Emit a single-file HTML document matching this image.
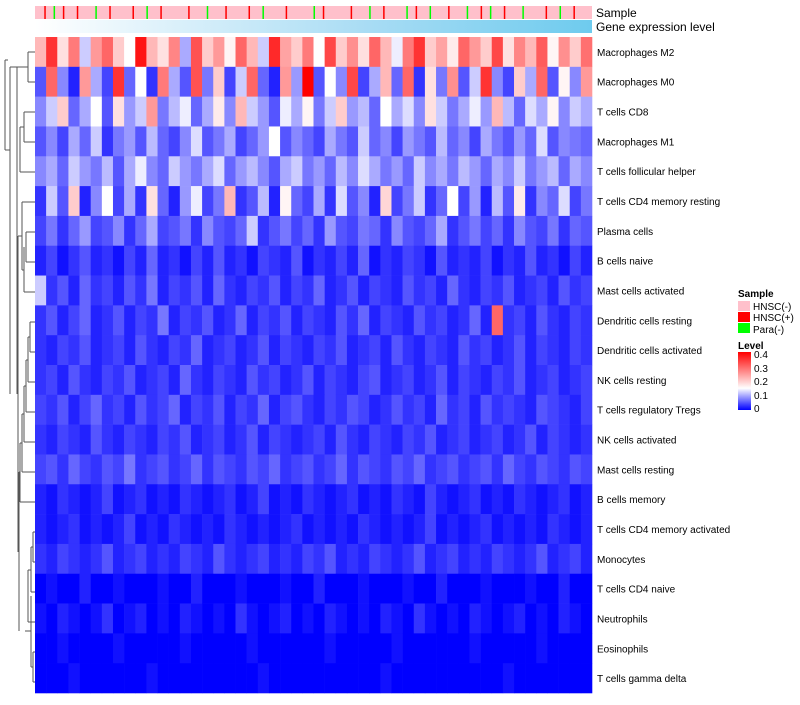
<!DOCTYPE html>
<html><head><meta charset="utf-8"><style>
body{margin:0;background:#fff;width:800px;height:700px;overflow:hidden;font-family:"Liberation Sans",sans-serif}
svg text{font-family:"Liberation Sans",sans-serif}
</style></head><body>
<svg id="chart" width="800" height="700" xmlns="http://www.w3.org/2000/svg">
<defs>
<linearGradient id="geneGrad" x1="0" x2="1" y1="0" y2="0"><stop offset="0" stop-color="#ffffff"/><stop offset="0.6" stop-color="#a8dcf4"/><stop offset="1" stop-color="#6ecbee"/></linearGradient>
<linearGradient id="lvlGrad" x1="0" x2="0" y1="1" y2="0"><stop offset="0" stop-color="#0000ff"/><stop offset="0.375" stop-color="#ffffff"/><stop offset="1" stop-color="#ff0000"/></linearGradient>
</defs>
<g id="annot"></g><g id="cells"></g><g id="labels"></g>
<g stroke="#555" stroke-width="1" fill="none">
<path d="M28,52 H35 M28,82 H35 M28,52 V82 M17,67 H28"/>
<path d="M24,112 H35 M24,142 H35 M24,112 V142 M20,127 H24 M20,172 H35 M20,127 V172 M22,202 H35"/>
<path d="M26,232 H35 M26,262 H35 M26,232 V262 M24,292 H35 M24,247 V292 M22,270 H24 M22,202 V270 M18,236 H22"/>
<path d="M30,322 H35 M30,352 H35 M30,322 V352 M28,337 H30 M28,382 H35 M28,337 V382 M26,360 H28 M26,412 H35 M26,360 V412 M24,386 H26 M24,442 H35 M24,386 V442 M22,414 H24 M22,472 H35 M22,414 V472 M20,443 H22 M20,502 H35 M20,443 V502 M19,472 H20"/>
<path d="M33,532 H35 M33,562 H35 M33,532 V562 M31,547 H33 M31,592 H35 M31,547 V592 M28,570 H31 M28,622 H35 M28,570 V622 M33,652 H35 M33,682 H35 M33,652 V682 M31,667 H33 M31,596 V667 M25,631 H31 M19,472 V631 M18,236 V552 M17,67 V394 M10,67 H17 M10,230 V394 M10,67 V230 M5,150 H10 M5,60 V150 M5,60 H8"/>
</g>
<g>
<text x="738" y="297" font-size="10" font-weight="bold">Sample</text>
<rect x="738" y="301" width="12" height="10" fill="#ffc0cb"/>
<text x="753" y="310" font-size="10">HNSC(-)</text>
<rect x="738" y="312" width="12" height="10" fill="#ff0000"/>
<text x="753" y="321" font-size="10">HNSC(+)</text>
<rect x="738" y="323" width="12" height="10" fill="#00ff00"/>
<text x="753" y="333" font-size="10">Para(-)</text>
<text x="738" y="349" font-size="10" font-weight="bold">Level</text>
<rect x="738" y="352" width="13" height="58" fill="url(#lvlGrad)"/>
<g font-size="10">
<text x="754" y="358">0.4</text><text x="754" y="372">0.3</text><text x="754" y="385">0.2</text><text x="754" y="399">0.1</text><text x="754" y="412">0</text>
</g>
</g>
</svg>
<script>
const rowNames=["Macrophages M2","Macrophages M0","T cells CD8","Macrophages M1","T cells follicular helper","T cells CD4 memory resting","Plasma cells","B cells naive","Mast cells activated","Dendritic cells resting","Dendritic cells activated","NK cells resting","T cells regulatory  Tregs","NK cells activated","Mast cells resting","B cells memory","T cells CD4 memory activated","Monocytes","T cells CD4 naive","Neutrophils","Eosinophils","T cells gamma delta"];
const rowM2=[.22,.35,.18,.28,.12,.25,.3,.2,.15,.38,.22,.18,.27,.1,.32,.2,.25,.16,.3,.22,.12,.36,.24,.2,.28,.15,.33,.2,.26,.18,.3,.22,.14,.28,.35,.2,.24,.17,.3,.25,.2,.33,.18,.27,.22,.31,.16,.26,.2,.29];
const rowM0=[.05,.3,.08,.02,.25,.1,.04,.35,.06,.15,.03,.28,.1,.05,.32,.07,.2,.04,.12,.3,.06,.02,.25,.09,.4,.05,.15,.08,.33,.04,.1,.22,.06,.3,.03,.18,.07,.26,.05,.12,.35,.08,.04,.2,.1,.3,.05,.16,.08,.25];
const rowCD8=[.08,.12,.2,.06,.1,.15,.05,.18,.09,.12,.25,.07,.11,.14,.06,.1,.17,.08,.22,.12,.09,.05,.14,.1,.16,.07,.12,.2,.09,.11,.06,.15,.1,.13,.08,.18,.12,.07,.1,.14,.09,.22,.11,.06,.13,.1,.16,.08,.12,.1];
const rowM1=[.05,.08,.04,.1,.06,.12,.03,.07,.09,.05,.11,.06,.04,.08,.13,.05,.07,.1,.04,.06,.09,.15,.05,.08,.06,.04,.1,.07,.05,.12,.06,.08,.04,.09,.07,.05,.11,.06,.08,.04,.1,.07,.05,.09,.06,.13,.05,.08,.07,.06];
const rowTfh=[.08,.1,.06,.12,.09,.07,.11,.05,.1,.14,.08,.06,.12,.09,.07,.1,.13,.06,.09,.11,.08,.05,.1,.12,.07,.09,.06,.11,.08,.13,.1,.07,.09,.06,.12,.08,.1,.07,.11,.09,.06,.1,.08,.12,.07,.09,.11,.06,.1,.08];
const rowCD4mr=[.03,.12,.05,.2,.02,.08,.15,.04,.1,.03,.18,.06,.02,.09,.14,.04,.07,.22,.03,.05,.11,.02,.16,.06,.04,.1,.03,.13,.05,.08,.02,.19,.04,.07,.12,.03,.06,.15,.04,.09,.02,.11,.05,.17,.03,.08,.06,.13,.04,.07];
const rowPlasma=[.04,.07,.03,.06,.09,.04,.05,.08,.03,.06,.1,.04,.05,.07,.03,.08,.05,.04,.06,.12,.03,.05,.07,.04,.06,.03,.09,.05,.04,.07,.06,.03,.08,.05,.04,.06,.1,.03,.05,.07,.04,.06,.03,.08,.05,.04,.07,.03,.06,.05];
const rowBnaive=[.02,.04,.01,.03,.05,.02,.03,.01,.04,.02,.06,.02,.03,.01,.04,.02,.05,.02,.03,.01,.04,.03,.02,.05,.01,.03,.02,.04,.02,.06,.01,.03,.02,.04,.03,.01,.05,.02,.03,.02,.04,.01,.03,.02,.05,.02,.03,.01,.04,.02];
const rowMastA=[.12,.03,.05,.02,.06,.03,.04,.02,.05,.03,.07,.02,.04,.03,.05,.02,.06,.03,.02,.04,.03,.05,.02,.04,.03,.06,.02,.03,.05,.02,.04,.03,.02,.05,.03,.04,.02,.06,.03,.02,.04,.03,.05,.02,.03,.04,.02,.05,.03,.04];
const rowDCr=[.03,.05,.02,.04,.06,.02,.03,.05,.02,.04,.03,.07,.02,.04,.03,.05,.02,.03,.06,.02,.04,.03,.05,.02,.04,.03,.02,.05,.03,.06,.02,.04,.03,.02,.05,.03,.04,.02,.03,.06,.02,.3,.03,.04,.02,.05,.03,.02,.04,.03];
const rowDCa=[.03,.02,.04,.03,.05,.02,.03,.04,.02,.05,.03,.02,.04,.03,.06,.02,.03,.04,.02,.03,.05,.02,.04,.03,.02,.04,.03,.05,.02,.03,.04,.02,.05,.03,.02,.04,.03,.02,.05,.03,.04,.02,.03,.05,.02,.04,.03,.02,.04,.03];
const rowNKr=[.03,.04,.02,.05,.03,.02,.04,.03,.05,.02,.03,.04,.02,.06,.03,.02,.04,.03,.02,.05,.03,.04,.02,.03,.05,.02,.04,.03,.02,.04,.05,.02,.03,.04,.02,.03,.05,.02,.04,.03,.02,.04,.03,.05,.02,.03,.04,.02,.03,.04];
const rowTreg=[.04,.03,.05,.02,.04,.06,.03,.04,.02,.05,.03,.04,.06,.02,.04,.03,.05,.02,.04,.03,.06,.02,.04,.05,.03,.02,.04,.03,.05,.04,.02,.03,.05,.03,.04,.02,.06,.03,.04,.02,.05,.03,.04,.03,.02,.05,.04,.03,.02,.04];
const rowNKa=[.03,.02,.04,.03,.02,.05,.03,.02,.04,.03,.02,.04,.03,.05,.02,.03,.04,.02,.03,.05,.02,.04,.03,.02,.03,.04,.02,.05,.03,.02,.04,.03,.02,.04,.03,.05,.02,.03,.04,.02,.03,.04,.02,.03,.05,.02,.04,.03,.02,.03];
const rowMastR=[.04,.05,.03,.06,.04,.03,.05,.04,.07,.03,.04,.05,.03,.04,.06,.03,.05,.04,.03,.05,.04,.06,.03,.04,.05,.03,.04,.06,.03,.05,.04,.03,.05,.04,.06,.03,.04,.05,.03,.04,.05,.03,.06,.04,.03,.05,.04,.03,.05,.04];
const rowBmem=[.02,.01,.03,.02,.01,.02,.04,.01,.02,.03,.01,.02,.01,.03,.02,.01,.02,.03,.01,.02,.04,.01,.02,.01,.03,.02,.01,.02,.03,.01,.02,.01,.03,.02,.01,.04,.02,.01,.02,.03,.01,.02,.01,.03,.02,.01,.02,.03,.01,.02];
const rowCD4ma=[.02,.01,.02,.03,.01,.02,.01,.02,.04,.01,.02,.01,.03,.02,.01,.02,.01,.03,.02,.01,.02,.01,.02,.03,.01,.02,.01,.02,.01,.03,.02,.01,.02,.01,.02,.04,.01,.02,.01,.02,.03,.01,.02,.01,.02,.01,.03,.02,.01,.02];
const rowMono=[.03,.02,.04,.03,.02,.03,.05,.02,.03,.04,.02,.03,.02,.04,.03,.02,.05,.03,.02,.03,.04,.02,.03,.02,.04,.03,.05,.02,.03,.02,.04,.03,.02,.03,.05,.02,.03,.04,.02,.03,.02,.04,.03,.02,.03,.05,.02,.03,.04,.02];
const rowCD4n=[.0,.01,.0,.0,.02,.0,.0,.01,.0,.0,.0,.01,.0,.0,.02,.0,.0,.0,.01,.0,.0,.0,.01,.0,.0,.02,.0,.0,.0,.01,.0,.0,.0,.01,.0,.0,.02,.0,.0,.0,.01,.0,.0,.0,.01,.0,.0,.02,.0,.0];
const rowNeut=[.01,.0,.02,.01,.0,.01,.03,.0,.01,.02,.0,.01,.0,.02,.01,.0,.01,.0,.03,.01,.0,.01,.02,.0,.01,.0,.02,.01,.0,.01,.0,.02,.01,.0,.03,.01,.0,.01,.0,.02,.01,.0,.01,.02,.0,.01,.0,.02,.01,.0];
const rowEos=[.0,.0,.01,.0,.0,.0,.0,.01,.0,.0,.0,.0,.0,.01,.0,.0,.0,.0,.0,.01,.0,.0,.0,.0,.0,.0,.01,.0,.0,.0,.0,.0,.01,.0,.0,.0,.0,.0,.0,.01,.0,.0,.0,.0,.0,.01,.0,.0,.0,.0];
const rowGd=[.0,.0,.0,.01,.0,.0,.0,.0,.0,.0,.01,.0,.0,.0,.0,.0,.0,.0,.0,.0,.01,.0,.0,.0,.0,.0,.0,.0,.0,.0,.0,.01,.0,.0,.0,.0,.0,.0,.0,.0,.0,.0,.01,.0,.0,.0,.0,.0,.0,.0];
const sampleGroups=[0,0,1,0,2,0,1,0,0,1,0,0,0,2,0,0,1,0,0,0,0,1,0,0,2,0,0,1,0,0,0,0,0,1,0,0,0,2,0,0,0,1,0,0,0,0,1,0,0,2,0,0,0,0,1,0,0,0,0,0,2,0,1,0,0,0,0,0,1,0,0,0,2,0,0,1,0,0,0,0,2,0,1,0,0,2,0,0,0,1,0,0,0,2,0,0,1,0,2,0,0,1,0,0,0,2,0,0,0,0,1,0,0,2,0,0,1,0,0,0];
const levelTicks=[0,0.1,0.2,0.3,0.4];
const matrix=[rowM2,rowM0,rowCD8,rowM1,rowTfh,rowCD4mr,rowPlasma,rowBnaive,rowMastA,rowDCr,rowDCa,rowNKr,rowTreg,rowNKa,rowMastR,rowBmem,rowCD4ma,rowMono,rowCD4n,rowNeut,rowEos,rowGd];
const groupColors=["#ffc0cb","#ff0000","#00ff00"];
const X0=35,X1=592,Y0=37,Y1=693;
const ns="http://www.w3.org/2000/svg";
function colScale(i,n){return X0+(X1-X0)*i/n;}
function rowScale(r){return Y0+(Y1-Y0)*r/matrix.length;}
function color(v){const mid=0.15,mx=0.4;let r,g,b;
 if(v<=mid){const t=Math.max(0,v)/mid;r=g=Math.round(255*t);b=255;}
 else{const t=Math.min(1,(v-mid)/(mx-mid));r=255;g=b=Math.round(255*(1-t));}
 return `rgb(${r},${g},${b})`;}
const annot=document.getElementById('annot');
const sbg=document.createElementNS(ns,'rect');
sbg.setAttribute('x',X0);sbg.setAttribute('y',6);sbg.setAttribute('width',X1-X0);sbg.setAttribute('height',13);sbg.setAttribute('fill','#ffc0cb');


annot.appendChild(sbg);
sampleGroups.forEach((g,i)=>{if(g===0)return;const x=colScale(i,sampleGroups.length);const r=document.createElementNS(ns,'rect');
 r.setAttribute('x',x);r.setAttribute('y',6);r.setAttribute('width',1.5);r.setAttribute('height',13);r.setAttribute('fill',groupColors[g]);
 
 
 annot.appendChild(r);});
const gb=document.createElementNS(ns,'rect');
gb.setAttribute('x',X0);gb.setAttribute('y',20);gb.setAttribute('width',X1-X0);gb.setAttribute('height',13);gb.setAttribute('fill','url(#geneGrad)');


annot.appendChild(gb);
[["Sample",17],["Gene expression level",31]].forEach(([t,y])=>{const e=document.createElementNS(ns,'text');e.setAttribute('x',596);e.setAttribute('y',y);e.setAttribute('font-size',12);e.textContent=t;
 
 
 annot.appendChild(e);});
const cells=document.getElementById('cells'),labels=document.getElementById('labels');
matrix.forEach((row,r)=>{const y=rowScale(r),h=rowScale(r+1)-y;
 row.forEach((v,i)=>{const x=colScale(i,row.length),w=colScale(i+1,row.length)-x;const c=document.createElementNS(ns,'rect');
  c.setAttribute('x',x);c.setAttribute('y',y);c.setAttribute('width',w+0.3);c.setAttribute('height',h+0.3);c.setAttribute('fill',color(v));
  
  
  cells.appendChild(c);});
 const t=document.createElementNS(ns,'text');t.setAttribute('x',597);t.setAttribute('y',y+h/2+4);t.setAttribute('font-size',10);t.textContent=rowNames[r];
 
 
 labels.appendChild(t);});
</script>
</body></html>
